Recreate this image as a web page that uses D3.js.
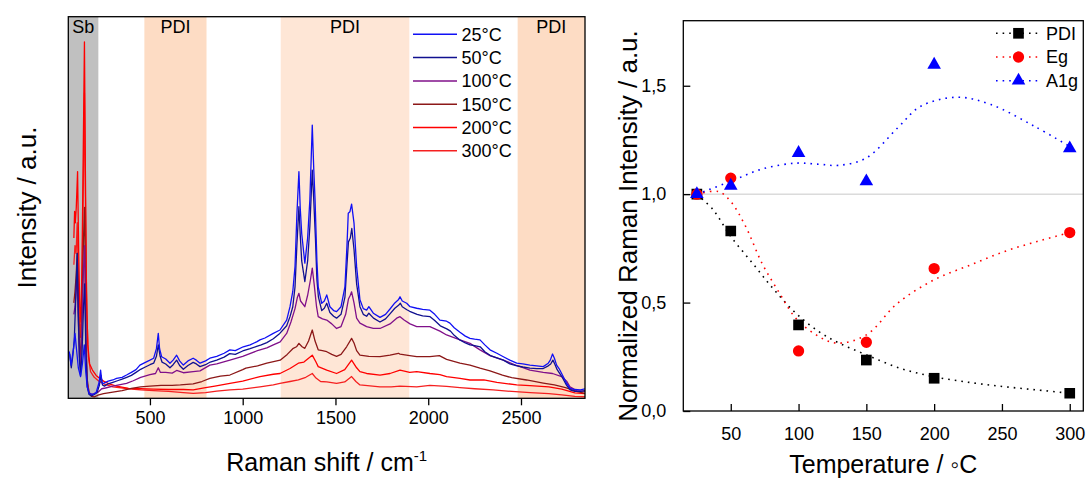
<!DOCTYPE html>
<meta charset="utf-8">
<style>
body { margin: 0; background: #fff; }
svg text { font-family: "Liberation Sans", Arial, sans-serif; fill: #000; }
.frame { fill: none; stroke: #000; stroke-width: 1.3px; }
.axis path { display: none; }
.axis line { stroke: #000; stroke-width: 1.3px; }
.axis text { font-size: 18px; }
</style>
<body>
<script src="https://d3js.org/d3.v7.min.js"></script>
<script>

// ---- left panel: Raman spectra, [shift (cm-1), intensity (a.u.)]
var spec25 = [[60,12.5],[66,12],[75,8.7],[88,13],[96,17],[104,13],[114,8],[126,5.7],[136,9],[146,14],[154,7],[162,3],[172,1.3],[190,1],[210,1.5],[225,4],[234,7.4],[242,4],[250,3.9],[275,4.5],[300,4.8],[320,5.2],[350,5.5],[374,6.1],[400,6.8],[425,7.5],[446,8.7],[470,9.3],[500,10],[520,10.5],[535,13],[545,17],[552,13],[563,10.9],[585,10.3],[608,9.2],[625,10],[644,11.3],[660,9.8],[680,8.7],[705,9.8],[733,10.5],[750,10],[770,9.2],[800,9.8],[823,10.5],[860,11],[900,11.8],[931,12.7],[960,12.5],[1003,13.5],[1040,14],[1075,14.8],[1093,15.3],[1120,15.8],[1165,17],[1201,17.9],[1237,20.5],[1255,24],[1270,28],[1282,34.5],[1292,48],[1303,59.4],[1310,50],[1318,43.2],[1335,35.4],[1350,42],[1362,52],[1375,71.6],[1383,60],[1390,52],[1400,36],[1407,29.2],[1426,24.9],[1440,25.5],[1453,27.1],[1470,24],[1490,23],[1506,22.7],[1530,24],[1551,29.2],[1562,40],[1569,48.5],[1578,48.9],[1587,50.9],[1600,45.9],[1614,34.5],[1632,25.8],[1650,23.5],[1668,23.1],[1680,24],[1704,22.3],[1740,21.2],[1770,22],[1794,23.4],[1820,25],[1839,25.8],[1848,26.6],[1860,25.5],[1884,24.9],[1902,24],[1938,23.6],[1970,23.3],[2009,23.1],[2035,22],[2063,20.5],[2099,20.2],[2117,19.7],[2140,18.5],[2171,17.3],[2200,16.3],[2225,15.7],[2250,15.5],[2279,15.3],[2305,14],[2333,12.7],[2370,11.8],[2405,10.9],[2440,10],[2477,9.2],[2510,9],[2548,8.7],[2585,8.5],[2620,8.3],[2647,9.2],[2658,10],[2670,11.6],[2680,10.5],[2692,8.7],[2705,7.8],[2719,6.5],[2735,5],[2746,3.9],[2764,2.6],[2790,2.3],[2820,2.2],[2845,2.5]];
var spec50 = [[60,12],[68,11.5],[76,8],[84,11],[92,15],[100,26],[108,38],[114,22],[120,10],[126,6],[134,12],[142,24],[148,30],[155,12],[162,3],[172,1],[185,0.6],[200,1],[215,1.5],[228,3.5],[236,6],[244,3.5],[255,3.2],[275,3.8],[300,4.2],[325,4.6],[350,5],[375,5.5],[400,6],[425,6.8],[450,7.6],[475,8.2],[500,8.8],[520,9.2],[535,11],[545,14],[555,11],[565,9.5],[585,9],[608,8],[625,8.8],[644,10],[660,8.6],[680,7.6],[705,8.6],[733,9.4],[750,9],[770,8.3],[800,8.8],[825,9.5],[860,10],[900,10.8],[930,11.7],[960,11.5],[1000,12.4],[1040,13],[1075,13.6],[1100,14],[1130,14.6],[1165,15.6],[1200,17],[1237,19],[1255,21.4],[1270,24],[1282,29.2],[1292,40],[1303,50.2],[1310,43],[1318,36],[1335,30.6],[1350,36],[1362,45],[1375,59.8],[1383,52],[1392,42],[1400,31],[1408,26.6],[1426,23],[1440,23.6],[1453,24.9],[1470,22.5],[1490,21.5],[1506,21],[1530,22],[1551,26.5],[1562,35],[1570,41],[1580,42],[1588,44.5],[1600,39],[1614,30],[1632,24],[1650,22],[1668,21.5],[1680,22.3],[1705,21],[1740,20],[1770,20.8],[1795,22.2],[1820,23.6],[1840,24.4],[1850,24.9],[1860,24],[1885,23.2],[1900,22.8],[1940,22],[1970,21.6],[2010,21.4],[2035,20.4],[2065,19],[2100,18.2],[2120,17.6],[2140,16.5],[2170,15.3],[2200,14.5],[2225,14],[2250,13.8],[2280,13.5],[2305,12.2],[2335,11.2],[2370,10.6],[2405,10],[2440,9],[2478,8.5],[2510,8.2],[2548,7.9],[2585,7.8],[2620,7.8],[2647,8.5],[2660,9],[2672,10],[2682,9],[2695,7.5],[2720,5.7],[2746,3.4],[2765,2.2],[2790,1.8],[2820,1.8],[2845,2]];
var spec100 = [[90,22],[96,24],[102,28],[108,33],[114,20],[120,11],[126,8],[134,20],[142,34],[148,40],[155,14],[162,4],[172,1.5],[185,1],[200,1.2],[220,1.6],[240,2.5],[260,2.7],[300,3.2],[340,3.6],[374,3.9],[410,4.6],[450,5.5],[500,6.2],[530,6.5],[545,8],[556,6.8],[585,6.8],[620,6.6],[644,7.3],[680,6.7],[733,7],[770,7.2],[823,8.7],[860,9],[931,10],[1000,11],[1075,12.4],[1130,13.2],[1165,14],[1202,14.8],[1237,17],[1260,20],[1282,23.5],[1295,26.5],[1303,27.5],[1312,25.5],[1335,24],[1350,27],[1365,31],[1375,34.1],[1385,30],[1398,24],[1407,21.4],[1430,20.8],[1453,20.5],[1480,19.5],[1506,18.3],[1530,18.8],[1555,22],[1570,26],[1580,27],[1587,27.9],[1600,25],[1614,21],[1632,19.7],[1668,18.8],[1704,18.3],[1740,18.3],[1794,19.5],[1830,21],[1848,21.4],[1870,20.5],[1902,19.5],[1938,18.8],[2009,18.8],[2063,17.6],[2099,16.6],[2171,15.3],[2225,14.4],[2279,12.7],[2333,11.2],[2405,10],[2477,8.6],[2548,7.4],[2620,6.8],[2670,6.5],[2719,5.7],[2746,4.5],[2764,3],[2800,2],[2845,1.8]];
var spec150 = [[90,25],[96,28],[102,32],[108,38],[114,24],[120,14],[126,10],[134,24],[142,42],[148,50],[155,16],[162,5],[172,1.5],[185,0.5],[200,0.4],[220,0.8],[250,1.2],[300,1.6],[350,2],[400,2.6],[450,3],[500,3.2],[560,3.4],[620,3.4],[664,3.5],[733,3.8],[780,4.4],[823,5.2],[880,5.8],[931,6.1],[1000,7.5],[1017,7.9],[1080,8.5],[1130,9.2],[1202,10],[1240,11.5],[1270,13],[1290,13.5],[1303,14.4],[1320,13.5],[1335,13.1],[1355,15],[1375,17.9],[1390,15],[1407,12.7],[1430,12.5],[1453,12.2],[1480,11.5],[1506,11],[1530,11.5],[1560,13.5],[1587,15.7],[1600,14.5],[1614,12.5],[1632,11.3],[1680,11],[1740,10.9],[1794,11.3],[1839,11.8],[1848,11.6],[1900,11.2],[1938,10.9],[2009,10.9],[2060,11.2],[2099,10.2],[2171,9.2],[2225,8.7],[2279,7.9],[2333,7.2],[2400,6.1],[2450,5.4],[2530,4.8],[2620,4],[2680,3.5],[2740,2.8],[2800,1.8],[2845,1.3]];
var spec200 = [[90,42],[94,49],[98,46],[103,50],[110,59.4],[116,38],[122,24],[128,20],[134,36],[140,62],[147,93.4],[152,60],[158,28],[165,14],[175,9],[190,7.4],[210,6],[230,5.2],[250,4.5],[280,3.8],[320,3.2],[385,2.6],[450,2.5],[520,2.4],[600,2.3],[680,2.3],[733,2.2],[800,2.8],[850,3.2],[931,3.9],[1000,4.5],[1093,5.7],[1165,6.3],[1201,6.5],[1255,7.8],[1300,9.2],[1330,9.5],[1355,10.5],[1375,11.3],[1395,9.5],[1407,8.3],[1453,7.4],[1506,6.5],[1550,7.5],[1587,10],[1614,8],[1632,7],[1668,6.5],[1740,6.1],[1794,6.5],[1848,7.4],[1900,6.8],[1938,7],[2009,6.5],[2063,6.2],[2099,5.7],[2171,5.2],[2225,4.8],[2300,4.8],[2370,4.2],[2477,3.5],[2548,3.3],[2650,3],[2720,2.4],[2790,1.4],[2845,1.2]];
var spec300 = [[90,35],[96,40],[102,38],[108,46],[114,32],[120,20],[126,16],[134,30],[140,52],[147,80],[153,48],[160,22],[168,11],[180,7],[200,5.5],[225,4.5],[250,3.8],[300,3],[385,2.5],[450,2.2],[520,2],[600,1.8],[680,1.5],[733,1.3],[800,1.5],[860,1.9],[931,2.2],[1000,2.4],[1093,3],[1165,3.5],[1201,3.9],[1255,4.4],[1300,4.8],[1340,5.5],[1375,6.5],[1395,5.3],[1420,4.4],[1453,4.3],[1506,3.9],[1550,4.3],[1587,5.7],[1610,4.4],[1632,3.5],[1700,3.2],[1740,3],[1800,3],[1848,3.2],[1938,3],[2009,3.4],[2099,3.1],[2171,2.8],[2250,2.5],[2350,2.2],[2450,1.8],[2550,1.5],[2650,1.2],[2720,0.9],[2790,0.5],[2845,0.4]];

var specNames = ["25°C", "50°C", "100°C", "150°C", "200°C", "300°C"];
var specColors = ["#1010f5", "#101090", "#80108a", "#8c1818", "#ff0000", "#f52020"];

// shaded regions
var bandFrom = [60, 470, 1205, 2482];
var bandTo = [222, 805, 1898, 2845];
var bandLabel = ["Sb", "PDI", "PDI", "PDI"];
var bandColor = ["#c0c0c0", "#fddcc4", "#fee6d6", "#fddcc4"];

var shiftTicks = [500, 1000, 1500, 2000, 2500];

// ---- right panel: normalized intensities vs temperature
var temps = [25, 50, 100, 150, 200, 300];
var pdiVals = [1.0, 0.83, 0.397, 0.235, 0.151, 0.082];
var egVals = [1.0, 1.074, 0.277, 0.317, 0.657, 0.823];
var a1gVals = [1.0, 1.039, 1.19, 1.059, 1.597, 1.211];

// fitted dotted guide curves
var pdiFitT = [25, 37, 50, 66, 81, 98, 115, 130, 150, 175, 200, 227, 252, 276, 300];
var pdiFitV = [1.0, 0.928, 0.805, 0.682, 0.566, 0.451, 0.366, 0.313, 0.259, 0.197, 0.158, 0.131, 0.112, 0.097, 0.082];
var egFitT = [25, 41, 50, 61, 73, 86, 98, 113, 128, 150, 173, 200, 227, 252, 276, 300];
var egFitV = [1.0, 1.012, 0.966, 0.851, 0.682, 0.543, 0.428, 0.351, 0.313, 0.351, 0.497, 0.605, 0.674, 0.736, 0.782, 0.823];
var a1gFitT = [25, 50, 73, 98, 115, 130, 150, 173, 190, 217, 242, 274, 300];
var a1gFitV = [1.0, 1.059, 1.116, 1.143, 1.138, 1.133, 1.167, 1.305, 1.405, 1.447, 1.413, 1.313, 1.22];

var tempTicks = [50, 100, 150, 200, 250, 300];
var normTicks = [0, 0.5, 1.0, 1.5];

var svg = d3.select("body").append("svg")
    .attr("width", 1088)
    .attr("height", 480);

// ================= left panel =================
var L = {left: 68.3, right: 585, top: 16.7, bottom: 398.3};
var x = d3.scaleLinear().domain([60, 2845]).range([L.left, L.right]);
var y = d3.scaleLinear().domain([0, 100]).range([L.bottom, L.top]);

svg.append("clipPath").attr("id", "clipL")
  .append("rect")
    .attr("x", L.left).attr("y", L.top)
    .attr("width", L.right - L.left).attr("height", L.bottom - L.top);

var bandG = svg.append("g");
bandFrom.forEach(function(b, i) {
  bandG.append("rect")
      .attr("x", x(b))
      .attr("y", L.top)
      .attr("width", x(bandTo[i]) - x(b))
      .attr("height", L.bottom - L.top)
      .style("fill", bandColor[i]);
  bandG.append("text")
      .attr("x", (x(b) + x(bandTo[i])) / 2)
      .attr("y", 33)
      .style("text-anchor", "middle")
      .style("font-size", "18px")
      .text(bandLabel[i]);
});

var spectra = [spec25, spec50, spec100, spec150, spec200, spec300];
var line = d3.line()
    .x(function(d) { return x(d[0]); })
    .y(function(d) { return y(d[1]); });

// draw from the lowest curve up so blue sits on top like the original
svg.append("g").attr("clip-path", "url(#clipL)")
  .selectAll("path")
    .data(spectra.map(function(s, i) { return {s: s, i: i}; }).reverse())
  .enter().append("path")
    .attr("d", function(d) { return line(d.s); })
    .style("fill", "none")
    .style("stroke", function(d) { return specColors[d.i]; })
    .style("stroke-width", 1.3)
    .style("stroke-linejoin", "round");

// legend
var legL = svg.append("g");
specNames.forEach(function(n, i) {
  var yy = 34.3 + i * 23.3;
  legL.append("line")
      .attr("x1", 413).attr("x2", 457)
      .attr("y1", yy).attr("y2", yy)
      .style("stroke", specColors[i])
      .style("stroke-width", 1.5);
  legL.append("text")
      .attr("x", 461.5).attr("y", yy)
      .attr("dy", "0.35em")
      .style("font-size", "18px")
      .text(n);
});

svg.append("g")
    .attr("class", "axis")
    .attr("transform", "translate(0," + L.bottom + ")")
    .call(d3.axisBottom(x).tickValues(shiftTicks).tickSize(7).tickPadding(6)
      .tickFormat(d3.format("d")));

svg.append("rect").attr("class", "frame")
    .attr("x", L.left).attr("y", L.top)
    .attr("width", L.right - L.left).attr("height", L.bottom - L.top);

var xt = svg.append("text")
    .attr("x", (L.left + L.right) / 2)
    .attr("y", 471)
    .style("text-anchor", "middle")
    .style("font-size", "25px");
xt.append("tspan").text("Raman shift / cm");
xt.append("tspan").attr("dy", -10).style("font-size", "15px").text("-1");

svg.append("text")
    .attr("transform", "translate(36," + ((L.top + L.bottom) / 2) + ") rotate(-90)")
    .style("text-anchor", "middle")
    .style("font-size", "26px")
    .text("Intensity / a.u.");

// ================= right panel =================
var R = {left: 683.3, right: 1083.3, top: 20.7, bottom: 411};
var tx = d3.scaleLinear().domain([15, 310]).range([R.left, R.right]);
var ty = d3.scaleLinear().domain([0, 1.8]).range([R.bottom, R.top]);

svg.append("clipPath").attr("id", "clipR")
  .append("rect")
    .attr("x", R.left).attr("y", R.top)
    .attr("width", R.right - R.left).attr("height", R.bottom - R.top);

var gR = svg.append("g").attr("clip-path", "url(#clipR)");

gR.append("line")
    .attr("x1", R.left).attr("x2", R.right)
    .attr("y1", ty(1)).attr("y2", ty(1))
    .style("stroke", "#c8c8c8")
    .style("stroke-width", 1);

var fitLine = d3.line()
    .curve(d3.curveCatmullRom)
    .x(function(d) { return tx(d[0]); })
    .y(function(d) { return ty(d[1]); });

var series = [
  {t: pdiFitT, v: pdiFitV, vals: pdiVals, color: "#000000", sym: d3.symbolSquare, size: 114, name: "PDI"},
  {t: egFitT, v: egFitV, vals: egVals, color: "#ff0000", sym: d3.symbolCircle, size: 100, name: "Eg"},
  {t: a1gFitT, v: a1gFitV, vals: a1gVals, color: "#0000ff", sym: d3.symbolTriangle, size: 80, name: "A1g"}
];

series.forEach(function(s) {
  gR.append("path")
      .attr("d", fitLine(s.t.map(function(t, i) { return [t, s.v[i]]; })))
      .style("fill", "none")
      .style("stroke", s.color)
      .style("stroke-width", 1.6)
      .style("stroke-dasharray", "1.6,5");
});

series.forEach(function(s) {
  gR.selectAll(null)
      .data(temps)
    .enter().append("path")
      .attr("transform", function(t, i) { return "translate(" + tx(t) + "," + ty(s.vals[i]) + ")"; })
      .attr("d", d3.symbol().type(s.sym).size(s.size))
      .style("fill", s.color);
});

// legend
series.forEach(function(s, i) {
  var yy = 33.3 + i * 23.7;
  svg.append("line")
      .attr("x1", 996).attr("x2", 1041)
      .attr("y1", yy).attr("y2", yy)
      .style("stroke", s.color)
      .style("stroke-width", 1.6)
      .style("stroke-dasharray", "1.6,5");
  svg.append("path")
      .attr("transform", "translate(1018.5," + yy + ")")
      .attr("d", d3.symbol().type(s.sym).size(s.size))
      .style("fill", s.color);
  svg.append("text")
      .attr("x", 1046).attr("y", yy)
      .attr("dy", "0.35em")
      .style("font-size", "18px")
      .text(s.name);
});

svg.append("g")
    .attr("class", "axis")
    .attr("transform", "translate(0," + R.bottom + ")")
    .call(d3.axisBottom(tx).tickValues(tempTicks).tickSize(-7).tickPadding(16));

svg.append("g")
    .attr("class", "axis")
    .attr("transform", "translate(" + R.left + ",0)")
    .call(d3.axisLeft(ty).tickValues(normTicks).tickSize(-7).tickPadding(17)
      .tickFormat(function(d) { return d3.format(".1f")(d).replace(".", ","); }));

svg.append("rect").attr("class", "frame")
    .attr("x", R.left).attr("y", R.top)
    .attr("width", R.right - R.left).attr("height", R.bottom - R.top);

svg.append("text")
    .attr("x", (R.left + R.right) / 2)
    .attr("y", 473)
    .style("text-anchor", "middle")
    .style("font-size", "25px")
    .text("Temperature / \u25E6C");

svg.append("text")
    .attr("transform", "translate(637,226) rotate(-90)")
    .style("text-anchor", "middle")
    .style("font-size", "26px")
    .text("Normalized Raman Intensity / a.u.");

</script>
</body>
